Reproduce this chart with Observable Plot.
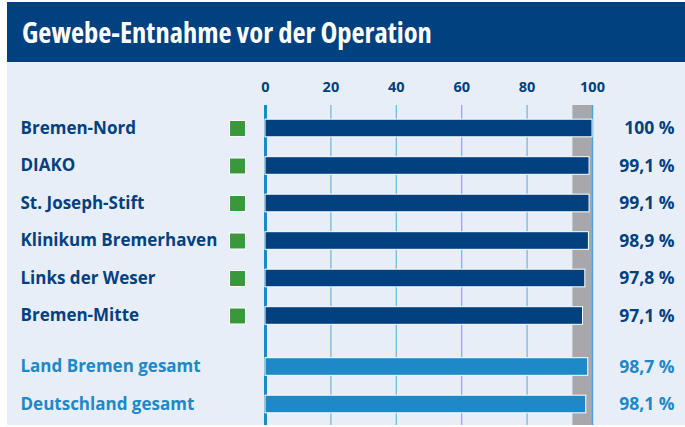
<!DOCTYPE html>
<html><head><meta charset="utf-8">
<script src="https://cdn.jsdelivr.net/npm/d3@7"></script>
<script src="https://cdn.jsdelivr.net/npm/@observablehq/plot@0.6"></script>
<style>
body{margin:0;background:#fff;}
#wrap{position:absolute;left:7px;top:2px;width:678px;}
#title{height:60px;background:#02417f;color:#fff;font-family:"Open Sans","DejaVu Sans Condensed";font-stretch:75%;font-weight:bold;font-size:28.5px;line-height:60px;padding-left:15px;box-sizing:border-box;}
#chart svg{display:block;}
</style></head><body>
<div id="wrap"><div id="title">Gewebe-Entnahme vor der Operation</div><div id="chart"></div></div>
<script>
const categories = ["Bremen-Nord", "DIAKO", "St. Joseph-Stift", "Klinikum Bremerhaven", "Links der Weser", "Bremen-Mitte", "Land Bremen gesamt", "Deutschland gesamt"];
const values = [100, 99.1, 99.1, 98.9, 97.8, 97.1, 98.7, 98.1];
const groups = ["Klinik", "Klinik", "Klinik", "Klinik", "Klinik", "Klinik", "Gesamt", "Gesamt"];
const tickValues = [0, 20, 40, 60, 80, 100];
const referenceBand = [94, 100];

const DARK = "#02417f", LIGHT = "#1e88c8";
const data = categories.map((c, i) => ({
  name: c, value: values[i], group: groups[i],
  pos: i < 6 ? i : i + 0.36
}));
const fmt = v => v === 100 ? "100 %" : v.toFixed(1).replace(".", ",") + " %";
const col = d => d.group === "Klinik" ? DARK : LIGHT;
const yTop = -0.613, yBottom = 7.95, half = 0.235;

const chart = Plot.plot({
  width: 678, height: 363,
  marginLeft: 258, marginRight: 93, marginTop: 0, marginBottom: 0,
  x: {domain: [0, 100], axis: null},
  y: {domain: [0, 7.36], range: [66, 342], axis: null},
  style: {background: "#e7eef8", fontFamily: "Open Sans"},
  marks: [
    Plot.rect([referenceBand], {x1: d => d[0], x2: d => d[1], y1: yTop, y2: yBottom, fill: "#a7a8ab"}),
    Plot.ruleX(tickValues.filter(t => t > 0 && t < 100), {y1: yTop, y2: yBottom, stroke: "#6cb4e4", strokeWidth: 1.2}),
    Plot.ruleX([0], {y1: yTop, y2: yBottom, stroke: LIGHT, strokeWidth: 3}),
    Plot.ruleX([100], {y1: yTop, y2: yBottom, stroke: "#4ba3dc", strokeWidth: 1.5}),
    Plot.rect(data, {x1: 0, x2: "value", y1: d => d.pos - half, y2: d => d.pos + half, fill: col, stroke: "#fff", strokeWidth: 1}),
    Plot.text(tickValues, {x: d => d, y: -1.09, text: d => String(d), fill: DARK, fontWeight: 700, fontSize: 14.5}),
    Plot.text(data, {x: 0, y: "pos", text: "name", dx: -245, textAnchor: "start", fill: col, fontWeight: 700, fontSize: 17}),
    Plot.dot(data.filter(d => d.group === "Klinik"), {x: 0, y: "pos", dx: -28, symbol: "square", r: 9, fill: "#3a983a", stroke: "#fff", strokeWidth: 1}),
    Plot.text(data, {x: 100, y: "pos", text: d => fmt(d.value), dx: 82, textAnchor: "end", fill: col, fontWeight: 700, fontSize: 17.5})
  ]
});
document.getElementById("chart").appendChild(chart);
</script>
</body></html>
